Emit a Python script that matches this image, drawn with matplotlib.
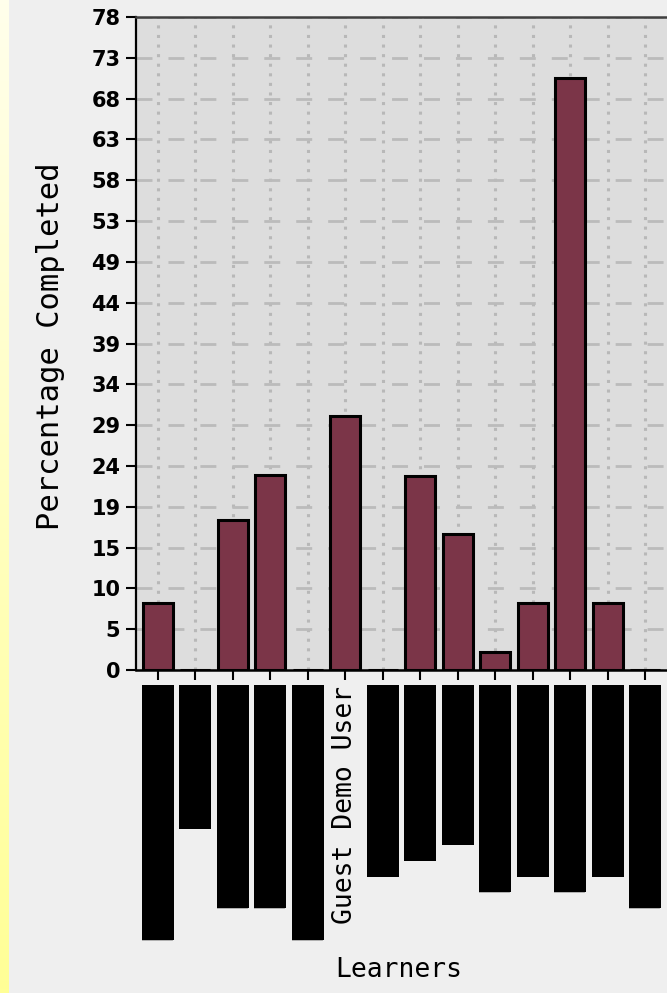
import matplotlib
matplotlib.use('Agg')
import matplotlib.pyplot as plt
import numpy as np

plt.rcParams['lines.scale_dashes'] = False

# Learner names (all but one are blacked out / redacted in the reference)
learners = ['█' * 16, '█' * 9, '█' * 14, '█' * 14, '█' * 16, 'Guest Demo User',
            '█' * 12, '█' * 11, '█' * 10, '█' * 13, '█' * 12, '█' * 13, '█' * 12, '█' * 14]
completed = [8.0, 0, 17.9, 23.3, 0, 30.3, 0, 23.2, 16.3, 2.2, 8.0, 70.7, 8.0, 0]
ytick_labels = ['0', '5', '10', '15', '19', '24', '29', '34', '39', '44', '49',
                '53', '58', '63', '68', '73', '78']
y_max = 78

W, H = 667, 993
fig = plt.figure(figsize=(W / 100, H / 100), dpi=100, facecolor='#efefef')

# yellow gradient strip on the left edge
sax = fig.add_axes([0, 0, 9 / W, 1])
grad = np.linspace(0, 1, 256)[:, None]
top = np.array([255, 254, 235]) / 255
bot = np.array([255, 255, 150]) / 255
img = top[None, None, :] * (1 - grad[:, :, None]) + bot[None, None, :] * grad[:, :, None]
sax.imshow(img, aspect='auto', extent=[0, 1, 0, 1])
sax.axis('off')

ax = fig.add_axes([136 / W, (H - 670) / H, (667 - 136) / W, (670 - 17) / H])
ax.set_facecolor('#dddddd')
x = np.arange(len(learners))
ax.bar(x, completed, width=0.8, color='#7b3548', edgecolor='black', linewidth=2.2, zorder=3)
ax.set_xlim(-0.58, len(learners) - 0.42)
ax.set_ylim(0, y_max)

yt = np.linspace(0, y_max, len(ytick_labels))
ax.set_yticks(yt)
ax.set_yticklabels(ytick_labels, fontfamily='DejaVu Sans', fontweight='bold', fontsize=15)
ax.set_xticks(x)
ax.set_xticklabels(learners, rotation=90, fontfamily='DejaVu Sans Mono', fontsize=19)
for lbl in ax.get_xticklabels():
    if '█' in lbl.get_text():
        lbl.set_bbox(dict(facecolor='black', edgecolor='black', pad=0.3, linewidth=0))

ax.set_axisbelow(True)
ax.grid(axis='y', color='#bbbbbb', linestyle=(0, (11.5, 11.5)), linewidth=2.0)
ax.grid(axis='x', color='#b8b8b8', linestyle=(0, (2.2, 4.7)), linewidth=2.2)

ax.spines['left'].set_linewidth(1.6)
ax.spines['left'].set_color('black')
ax.spines['bottom'].set_linewidth(1.8)
ax.spines['bottom'].set_color('black')
ax.spines['top'].set_linewidth(1.8)
ax.spines['top'].set_color('#404040')
ax.spines['right'].set_visible(False)
ax.tick_params(axis='both', direction='out', length=7.2, width=1.5, color='black', pad=4)

fig.text(51 / W, 1 - 346 / H, 'Percentage Completed', rotation=90, ha='center', va='center',
         fontfamily='DejaVu Sans Mono', fontsize=22)
fig.text(398.5 / W, 1 - 977 / H, 'Learners', ha='center', va='baseline',
         fontfamily='DejaVu Sans Mono', fontsize=19)

fig.savefig('out.png', dpi=100, facecolor=fig.get_facecolor())
